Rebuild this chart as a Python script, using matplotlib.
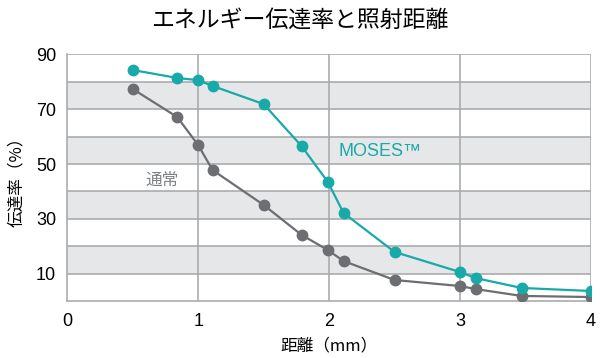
import matplotlib.pyplot as plt

plt.rcParams['font.family'] = ['Liberation Sans', 'Noto Sans CJK JP', 'DejaVu Sans']

# 照射距離 (mm)
kyori = [0.5, 0.84, 1.0, 1.11, 1.5, 1.79, 1.99, 2.11, 2.5, 3.0, 3.12, 3.47, 4.0]
# 伝達率 (%)
moses = [84.2, 81.3, 80.5, 78.4, 71.8, 56.5, 43.5, 32.2, 18.0, 10.7, 8.5, 4.9, 3.8]
tsujo = [77.3, 67.1, 56.9, 47.8, 35.1, 24.2, 18.7, 14.7, 7.8, 5.6, 4.5, 2.0, 1.6]

xticks = [0, 1, 2, 3, 4]
yticks = [10, 30, 50, 70, 90]

teal = '#17aaa8'
gris = '#6d6e71'
linha = '#a9abae'

fig = plt.figure(figsize=(6, 3.58), dpi=100)
ax = fig.add_axes([0.112, 0.158, 0.873, 0.691])

# faixas cinza
for y0 in range(10, 90, 20):
    ax.axhspan(y0, y0 + 10, color='#e6e7e8', zorder=0, lw=0)
for y in range(10, 91, 10):
    ax.axhline(y, color=linha, lw=1.2, zorder=1)
for x in xticks[1:]:
    ax.axvline(x, color=linha, lw=1.2, zorder=1)

ax.plot(kyori, tsujo, color=gris, lw=1.6, marker='o', ms=7.5, zorder=3)
ax.plot(kyori, moses, color=teal, lw=1.6, marker='o', ms=7.5, zorder=4)

ax.text(0.6, 44, '通常', color='#808285', fontsize=12, va='center',
        family=['Noto Sans CJK JP'])
ax.text(2.07, 54.5, 'MOSES™', color=teal, fontsize=13, va='center')

ax.set_xlim(0, 4)
ax.set_ylim(0, 90)
ax.set_xticks(xticks)
ax.set_yticks(yticks)
ax.tick_params(length=0, labelsize=13, pad=8)
for s in ['top', 'right']:
    ax.spines[s].set_visible(False)
for s in ['left', 'bottom']:
    ax.spines[s].set_color(linha)
    ax.spines[s].set_linewidth(1.2)

ax.set_xlabel('距離（mm）', fontsize=12, family=['Noto Sans CJK JP'], labelpad=6)
ax.set_ylabel('伝達率（%）', fontsize=12, family=['Noto Sans CJK JP'], labelpad=8)
fig.suptitle('エネルギー伝達率と照射距離', fontsize=16.5, y=0.975,
             family=['Noto Sans CJK JP'])

fig.savefig('out.png', dpi=100)
